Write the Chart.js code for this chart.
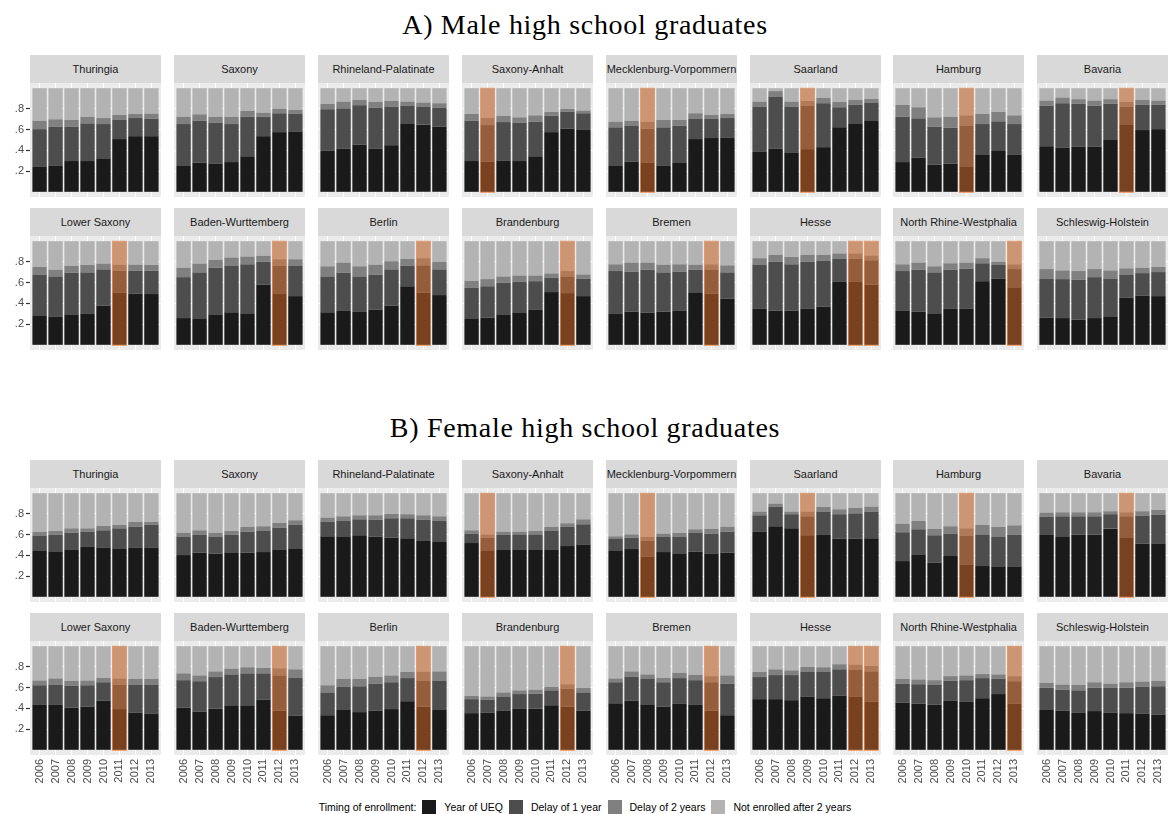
<!DOCTYPE html>
<html>
<head>
<meta charset="utf-8">
<script src="https://cdn.jsdelivr.net/npm/chart.js@4.4.1/dist/chart.umd.min.js"></script>
<style>
  html, body { margin: 0; padding: 0; background: #ffffff; }
  body { width: 1170px; height: 814px; position: relative; overflow: hidden; font-family: "Liberation Sans", Arial, sans-serif; }
  .title { position: absolute; left: 0; width: 1170px; text-align: center; font-family: "Liberation Serif", "DejaVu Serif", serif; font-size: 28px; letter-spacing: 0.7px; color: #000; line-height: 30px; }
  .strip { position: absolute; background: #d9d9d9; color: #1a1a1a; font-size: 11px; text-align: center; white-space: nowrap; }
  .panel { position: absolute; }
  .legend { position: absolute; left: 0; width: 1170px; top: 799px; height: 16px; display: flex; justify-content: center; align-items: center; font-size: 10.5px; color: #000; }
  .legend .box { width: 14px; height: 14px; display: inline-block; margin: 0 8px 0 6px; }
</style>
</head>
<body>
<div class="title" style="top:10px">A) Male high school graduates</div>
<div class="title" style="top:413px">B) Female high school graduates</div>
<div class="legend" id="legend"></div>
<script>
// ---------------- DATA ----------------
const states = ['Thuringia','Saxony','Rhineland-Palatinate','Saxony-Anhalt','Mecklenburg-Vorpommern','Saarland','Hamburg','Bavaria',
                'Lower Saxony','Baden-Wurttemberg','Berlin','Brandenburg','Bremen','Hesse','North Rhine-Westphalia','Schleswig-Holstein'];
const years = ['2006','2007','2008','2009','2010','2011','2012','2013'];
const highlightYears = [[],[],[],['2007'],['2008'],['2009'],['2010'],['2011'],
                        ['2011'],['2012'],['2012'],['2012'],['2012'],['2012','2013'],['2013'],[]];
const categories = ['Year of UEQ','Delay of 1 year','Delay of 2 years','Not enrolled after 2 years'];
const yTicks = [0.2, 0.4, 0.6, 0.8];

// Male: cumulative shares (enrolled in year of UEQ; by 1-year delay; by 2-year delay)
const maleUEQ = [
  [.240,.255,.297,.297,.323,.509,.537,.537],
  [.249,.281,.274,.287,.343,.537,.576,.583],
  [.395,.415,.456,.415,.450,.654,.648,.628],
  [.297,.290,.303,.297,.343,.576,.609,.603],
  [.249,.290,.284,.255,.278,.509,.519,.525],
  [.385,.415,.375,.412,.431,.622,.654,.683],
  [.287,.330,.261,.271,.246,.362,.401,.356],
  [.440,.424,.437,.437,.500,.644,.596,.605],
  [.278,.269,.294,.298,.379,.505,.493,.490],
  [.258,.249,.294,.314,.304,.581,.490,.470],
  [.314,.327,.317,.340,.379,.565,.503,.480],
  [.249,.262,.294,.307,.337,.509,.499,.470],
  [.298,.320,.311,.320,.327,.500,.493,.445],
  [.347,.330,.330,.347,.369,.607,.607,.581],
  [.327,.320,.304,.347,.347,.614,.640,.555],
  [.262,.258,.242,.258,.275,.457,.473,.470]
];
const maleUpTo1 = [
  [.605,.628,.628,.660,.654,.693,.712,.706],
  [.654,.686,.667,.654,.725,.725,.758,.755],
  [.797,.806,.836,.813,.823,.829,.823,.813],
  [.686,.644,.673,.667,.676,.735,.774,.758],
  [.622,.635,.609,.622,.638,.703,.703,.712],
  [.823,.920,.823,.832,.855,.816,.839,.862],
  [.725,.709,.628,.618,.635,.654,.680,.654],
  [.829,.855,.849,.832,.849,.823,.839,.839],
  [.679,.660,.696,.699,.728,.715,.715,.715],
  [.653,.699,.744,.761,.777,.803,.761,.761],
  [.660,.696,.660,.676,.728,.764,.767,.728],
  [.549,.565,.598,.607,.614,.647,.660,.637],
  [.712,.705,.725,.699,.705,.725,.722,.699],
  [.770,.800,.777,.800,.810,.833,.833,.816],
  [.712,.725,.699,.725,.735,.787,.770,.731],
  [.640,.634,.627,.653,.640,.679,.692,.702]
];
const maleUpTo2 = [
  [.686,.700,.693,.725,.712,.742,.751,.755],
  [.725,.748,.725,.725,.780,.764,.803,.790],
  [.849,.871,.888,.868,.878,.871,.862,.855],
  [.751,.712,.732,.719,.738,.771,.800,.784],
  [.677,.686,.677,.693,.693,.758,.742,.751],
  [.871,.972,.871,.878,.907,.868,.888,.897],
  [.839,.816,.719,.725,.738,.751,.771,.738],
  [.881,.910,.894,.881,.894,.868,.888,.881],
  [.751,.725,.761,.771,.784,.774,.774,.771],
  [.744,.784,.820,.843,.852,.859,.826,.826],
  [.758,.794,.758,.774,.807,.829,.836,.803],
  [.617,.634,.660,.669,.669,.689,.712,.679],
  [.777,.794,.794,.774,.777,.774,.777,.767],
  [.836,.869,.849,.869,.869,.882,.882,.862],
  [.777,.794,.758,.787,.794,.836,.803,.777],
  [.731,.718,.712,.731,.718,.738,.744,.751]
];

// Female: cumulative shares
const femaleUEQ = [
  [.442,.439,.458,.481,.477,.468,.477,.477],
  [.403,.426,.416,.423,.426,.432,.458,.468],
  [.584,.577,.594,.581,.571,.565,.539,.529],
  [.519,.442,.452,.458,.452,.458,.490,.506],
  [.442,.461,.390,.432,.413,.435,.419,.426],
  [.626,.681,.661,.594,.603,.561,.561,.565],
  [.345,.410,.329,.394,.313,.297,.294,.294],
  [.603,.584,.600,.600,.658,.574,.513,.516],
  [.433,.433,.407,.416,.475,.393,.357,.351],
  [.407,.367,.397,.423,.423,.485,.377,.331],
  [.334,.384,.364,.377,.393,.469,.416,.384],
  [.354,.357,.380,.400,.397,.430,.416,.377],
  [.449,.475,.439,.416,.443,.433,.377,.334],
  [.489,.489,.479,.515,.498,.521,.515,.466],
  [.456,.446,.436,.472,.462,.498,.538,.443],
  [.384,.377,.361,.374,.361,.354,.351,.341]
];
const femaleUpTo1 = [
  [.587,.597,.619,.629,.642,.661,.677,.694],
  [.577,.597,.577,.597,.629,.635,.668,.694],
  [.723,.732,.748,.745,.758,.758,.745,.732],
  [.610,.571,.597,.603,.603,.635,.674,.700],
  [.558,.571,.539,.577,.577,.616,.610,.629],
  [.787,.868,.797,.777,.823,.797,.806,.819],
  [.623,.652,.594,.610,.587,.603,.577,.597],
  [.774,.777,.777,.777,.797,.777,.784,.790],
  [.623,.630,.620,.623,.652,.630,.630,.630],
  [.672,.662,.702,.728,.738,.738,.718,.698],
  [.554,.607,.613,.639,.652,.692,.669,.669],
  [.489,.482,.515,.538,.541,.574,.590,.554],
  [.652,.705,.689,.652,.692,.672,.652,.639],
  [.702,.721,.721,.751,.751,.777,.770,.757],
  [.639,.633,.626,.666,.672,.692,.685,.662],
  [.600,.580,.574,.600,.597,.600,.607,.613]
];
const femaleUpTo2 = [
  [.626,.635,.661,.661,.684,.694,.723,.723],
  [.619,.642,.619,.635,.674,.681,.713,.739],
  [.765,.777,.787,.787,.800,.797,.787,.777],
  [.642,.603,.629,.629,.635,.674,.710,.748],
  [.584,.603,.577,.610,.616,.652,.655,.677],
  [.823,.900,.823,.823,.868,.845,.858,.871],
  [.706,.732,.655,.681,.661,.694,.674,.690],
  [.813,.816,.816,.816,.826,.816,.826,.839],
  [.669,.689,.666,.669,.695,.689,.685,.685],
  [.738,.718,.757,.784,.797,.790,.787,.777],
  [.623,.685,.685,.705,.718,.751,.754,.757],
  [.521,.515,.554,.574,.580,.607,.633,.597],
  [.689,.757,.728,.695,.744,.725,.711,.718],
  [.751,.777,.767,.800,.797,.826,.823,.810],
  [.685,.679,.672,.711,.718,.731,.728,.711],
  [.646,.630,.626,.652,.639,.652,.659,.666]
];

// ---------------- STYLE / LAYOUT ----------------
const colors = ['#1a1a1a', '#4d4d4d', '#808080', '#b3b3b3'];
const hlFill = 'rgba(235,115,40,0.45)';
const hlBorder = 'rgba(240,140,80,0.75)';
const panelW = 131, panelH = 114, stripH = 28;
const colStep = 143.9, colStart = 30;
const stripTops = [55, 208, 460, 613];
const axisW = 30, xAxisH = 40;

const bgPlugin = {
  id: 'panelBg',
  beforeDraw(chart) {
    const a = chart.chartArea, ctx = chart.ctx;
    ctx.save(); ctx.fillStyle = '#ebebeb';
    ctx.fillRect(a.left, a.top, a.right - a.left, a.bottom - a.top);
    ctx.restore();
  }
};

function makePanel(sexIdx, stateIdx) {
  const u = sexIdx === 0 ? maleUEQ[stateIdx] : femaleUEQ[stateIdx];
  const c1 = sexIdx === 0 ? maleUpTo1[stateIdx] : femaleUpTo1[stateIdx];
  const c2 = sexIdx === 0 ? maleUpTo2[stateIdx] : femaleUpTo2[stateIdx];
  const col = stateIdx % 8, rowInSex = Math.floor(stateIdx / 8);
  const row = sexIdx * 2 + rowInSex;
  const hasY = col === 0, hasX = row === 3;
  const pLeft = Math.round(colStart + col * colStep);
  const sTop = stripTops[row];
  const pTop = sTop + stripH;

  const strip = document.createElement('div');
  strip.className = 'strip';
  strip.style.left = pLeft + 'px'; strip.style.top = sTop + 'px';
  strip.style.width = panelW + 'px'; strip.style.height = stripH + 'px';
  strip.style.lineHeight = stripH + 'px';
  strip.textContent = states[stateIdx];
  document.body.appendChild(strip);

  const w = panelW + (hasY ? axisW : 0), h = panelH + (hasX ? xAxisH : 0);
  const div = document.createElement('div');
  div.className = 'panel';
  div.style.left = (pLeft - (hasY ? axisW : 0)) + 'px';
  div.style.top = pTop + 'px';
  div.style.width = w + 'px'; div.style.height = h + 'px';
  const cv = document.createElement('canvas');
  cv.width = w; cv.height = h;
  div.appendChild(cv);
  document.body.appendChild(div);

  const lows = [years.map(() => 0), u, c1, c2];
  const highs = [u, c1, c2, years.map(() => 1)];
  const datasets = categories.map((name, k) => ({
    label: name,
    data: years.map((yr, i) => ({ x: i + 1, y: [lows[k][i], highs[k][i]] })),
    backgroundColor: colors[k],
    borderWidth: 0,
    grouped: false,
    categoryPercentage: 1,
    barPercentage: 0.9,
    order: 1
  }));
  const hl = highlightYears[stateIdx];
  datasets.push({
    label: 'reform',
    data: years.map((yr, i) => ({ x: i + 1, y: hl.includes(yr) ? [-0.012, 1.006] : null })),
    backgroundColor: hlFill,
    borderColor: hlBorder,
    borderWidth: 1,
    borderSkipped: false,
    grouped: false,
    categoryPercentage: 1,
    barPercentage: 0.94,
    order: 0
  });

  new Chart(cv, {
    type: 'bar',
    data: { datasets },
    plugins: [bgPlugin],
    options: {
      responsive: false,
      animation: false,
      events: [],
      layout: { padding: 0 },
      plugins: { legend: { display: false }, tooltip: { enabled: false }, title: { display: false } },
      scales: {
        x: {
          type: 'linear', min: 0.4, max: 8.6, offset: false,
          grid: { color: '#ffffff', lineWidth: 1, drawTicks: false, offset: false },
          border: { display: false },
          afterBuildTicks: s => { s.ticks = years.map((yr, i) => ({ value: i + 1 })); },
          afterFit: s => { s.height = hasX ? xAxisH : 0; s.paddingLeft = 0; s.paddingRight = 0; },
          ticks: {
            display: hasX, autoSkip: false, minRotation: 90, maxRotation: 90, padding: 4,
            color: '#4d4d4d', font: { family: 'Liberation Sans', size: 11 },
            callback: v => years[Math.round(v) - 1]
          }
        },
        y: {
          type: 'linear', min: -0.05, max: 1.05,
          grid: { color: '#ffffff', lineWidth: 1, drawTicks: hasY, tickLength: 4, tickColor: '#333333', tickWidth: 1.2 },
          border: { display: false },
          afterBuildTicks: s => { s.ticks = yTicks.map(v => ({ value: v })); },
          afterFit: s => { s.width = hasY ? axisW : 0; s.paddingTop = 0; s.paddingBottom = 0; },
          ticks: {
            display: hasY, padding: 2,
            color: '#4d4d4d', font: { family: 'Liberation Sans', size: 11 },
            callback: v => String(Math.round(v * 10) / 10).replace(/^0/, '')
          }
        }
      }
    }
  });
}

for (let s = 0; s < 2; s++) for (let i = 0; i < states.length; i++) makePanel(s, i);

// legend
const lg = document.getElementById('legend');
const head = document.createElement('span');
head.textContent = 'Timing of enrollment:';
lg.appendChild(head);
categories.forEach((c, k) => {
  const b = document.createElement('span'); b.className = 'box'; b.style.background = colors[k];
  const t = document.createElement('span'); t.textContent = c;
  lg.appendChild(b); lg.appendChild(t);
});
</script>
</body>
</html>
